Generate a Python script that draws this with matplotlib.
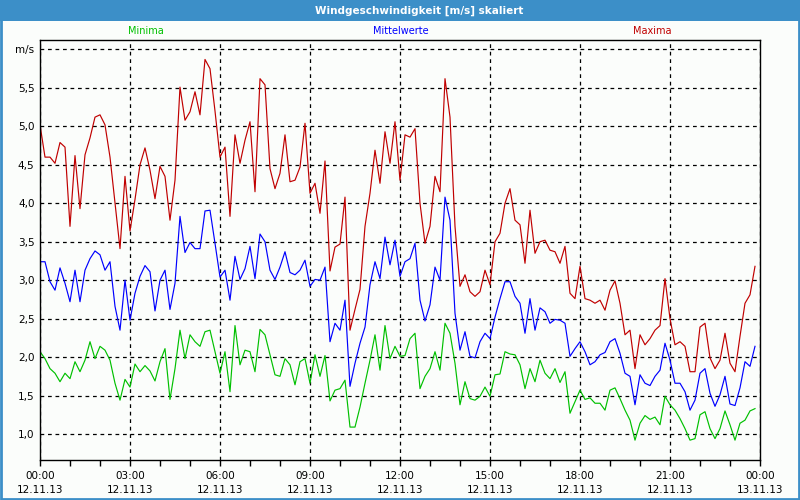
import matplotlib
matplotlib.use("Agg")
import matplotlib.pyplot as plt
from matplotlib.patches import Rectangle
import numpy as np

# 10-Minuten-Werte, 12.11.13 00:00 bis 23:50
maxima = [5.02, 4.6, 4.6, 4.52, 4.79, 4.73, 3.7, 4.62, 3.93, 4.63,
          4.85, 5.12, 5.15, 5.02, 4.6, 4.0, 3.41, 4.35, 3.64, 4.05,
          4.5, 4.72, 4.43, 4.06, 4.48, 4.35, 3.78, 4.3, 5.51, 5.08,
          5.19, 5.45, 5.15, 5.87, 5.75, 5.2, 4.6, 4.73, 3.83, 4.89,
          4.52, 4.82, 5.06, 4.15, 5.62, 5.54, 4.45, 4.19, 4.39, 4.89,
          4.28, 4.3, 4.47, 5.04, 4.13, 4.26, 3.87, 4.55, 3.12, 3.43,
          3.47, 4.08, 2.35, 2.62, 2.88, 3.7, 4.13, 4.69, 4.26, 4.93,
          4.52, 5.06, 4.3, 4.89, 4.86, 4.97, 4.0, 3.48, 3.7, 4.35,
          4.15, 5.62, 5.12, 3.7, 2.92, 3.07, 2.85, 2.79, 2.85, 3.13,
          2.94, 3.5, 3.61, 4.0, 4.19, 3.78, 3.72, 3.22, 3.91, 3.35,
          3.5, 3.52, 3.39, 3.37, 3.22, 3.44, 2.83, 2.76, 3.18, 2.76,
          2.74, 2.7, 2.74, 2.61, 2.87, 2.99, 2.7, 2.29, 2.35, 1.85,
          2.29, 2.16, 2.24, 2.35, 2.41, 3.02, 2.5, 2.16, 2.2, 2.14,
          1.81, 1.81, 2.39, 2.44, 1.99, 1.85, 1.96, 2.31, 1.92, 1.81,
          2.27, 2.7, 2.81, 3.18]

mittelwerte = [3.24, 3.24, 2.98, 2.87, 3.16, 2.96, 2.72, 3.13, 2.72, 3.13,
               3.28, 3.38, 3.33, 3.13, 3.24, 2.66, 2.35, 3.0, 2.48, 2.83,
               3.05, 3.19, 3.11, 2.6, 3.0, 3.13, 2.62, 2.96, 3.83, 3.36,
               3.49, 3.41, 3.41, 3.9, 3.91, 3.48, 3.04, 3.13, 2.74, 3.31,
               3.01, 3.15, 3.44, 3.02, 3.6, 3.5, 3.13, 3.01, 3.17, 3.37,
               3.1, 3.07, 3.13, 3.26, 2.92, 3.01, 3.0, 3.17, 2.2, 2.44,
               2.35, 2.74, 1.62, 1.92, 2.18, 2.39, 2.94, 3.24, 3.02, 3.56,
               3.2, 3.52, 3.05, 3.24, 3.28, 3.48, 2.74, 2.47, 2.68, 3.17,
               3.0, 4.08, 3.78, 2.57, 2.09, 2.33, 2.01, 1.99, 2.2, 2.31,
               2.24, 2.52, 2.76, 2.98, 2.98, 2.79, 2.7, 2.31, 2.76, 2.35,
               2.64, 2.59, 2.44, 2.49, 2.48, 2.44, 2.01, 2.11, 2.2, 2.07,
               1.9, 1.94, 2.03, 2.06, 2.2, 2.24, 2.05, 1.79, 1.75, 1.38,
               1.77, 1.66, 1.63, 1.75, 1.83, 2.18, 1.96, 1.66, 1.66, 1.55,
               1.31, 1.44, 1.79, 1.85, 1.53, 1.36, 1.51, 1.75, 1.39, 1.37,
               1.6, 1.94, 1.88, 2.14]

minima = [2.07, 1.98, 1.85, 1.79, 1.68, 1.79, 1.72, 1.94, 1.81, 1.96,
          2.2, 1.98, 2.14, 2.09, 1.96, 1.66, 1.44, 1.71, 1.61, 1.91,
          1.81, 1.89, 1.82, 1.69, 1.94, 2.11, 1.45, 1.85, 2.35, 1.98,
          2.29, 2.2, 2.14, 2.33, 2.35, 2.07, 1.79, 2.07, 1.55, 2.41,
          1.9, 2.09, 2.07, 1.81, 2.36, 2.29, 2.03, 1.77, 1.75, 1.98,
          1.9, 1.64, 1.94, 1.98, 1.66, 2.03, 1.75, 2.02, 1.43, 1.57,
          1.59, 1.7, 1.09, 1.09, 1.35, 1.66, 1.96, 2.29, 1.83, 2.41,
          1.98, 2.14, 2.01, 2.02, 2.24, 2.31, 1.59, 1.75, 1.85, 2.07,
          1.83, 2.44, 2.31, 1.92, 1.38, 1.68, 1.46, 1.44, 1.49, 1.61,
          1.49, 1.77, 1.78, 2.07, 2.04, 2.03, 1.9, 1.59, 1.85, 1.68,
          1.96, 1.79, 1.72, 1.85, 1.67, 1.81, 1.27, 1.42, 1.57, 1.45,
          1.47, 1.4, 1.4, 1.31, 1.57, 1.6, 1.46, 1.31, 1.18, 0.92,
          1.14, 1.24, 1.19, 1.22, 1.12, 1.49, 1.38, 1.31, 1.2, 1.07,
          0.92, 0.94, 1.25, 1.29, 1.07, 0.94, 1.07, 1.3, 1.12, 0.92,
          1.14, 1.18, 1.3, 1.33]

x_ticks = [0, 3, 6, 9, 12, 15, 18, 21, 24]
x_labels = ["00:00\n12.11.13", "03:00\n12.11.13", "06:00\n12.11.13",
            "09:00\n12.11.13", "12:00\n12.11.13", "15:00\n12.11.13",
            "18:00\n12.11.13", "21:00\n12.11.13", "00:00\n13.11.13"]
y_ticks = [1.0, 1.5, 2.0, 2.5, 3.0, 3.5, 4.0, 4.5, 5.0, 5.5, 6.0]
y_labels = ["1,0", "1,5", "2,0", "2,5", "3,0", "3,5", "4,0", "4,5", "5,0", "5,5", "m/s"]

stunden = np.arange(len(maxima)) / 6.0

bg = "#fbfdfb"
blau_rahmen = "#3c8fc8"
c_min, c_mit, c_max = "#00c000", "#0000ff", "#c00000"

plt.rcParams["font.family"] = ["DejaVu Sans"]
fig = plt.figure(figsize=(8, 5), dpi=100, facecolor=bg)
ax = fig.add_axes([0.05, 0.08, 0.90, 0.84], facecolor=bg)

ax.plot(stunden, maxima, color=c_max, lw=0.85)
ax.plot(stunden, mittelwerte, color=c_mit, lw=0.85)
ax.plot(stunden, minima, color=c_min, lw=0.85)

ax.set_xlim(0, 24)
ax.set_ylim(0.662, 6.123)
ax.set_xticks(x_ticks)
ax.set_xticklabels(x_labels, fontsize=7.5, linespacing=1.45)
ax.set_xticks(range(25), minor=True)
ax.set_yticks(y_ticks)
ax.set_yticklabels(y_labels, fontsize=7.5)
ax.tick_params(axis="x", which="both", length=4, width=1, pad=4, color="black")
ax.tick_params(axis="y", length=0, pad=4)
ax.grid(True, which="major", color="black", linestyle=(0, (3, 3)), linewidth=0.9)
for s in ax.spines.values():
    s.set_color("black")
    s.set_linewidth(1)

# Titelleiste und Rahmen
fig.add_artist(Rectangle((0, 0.958), 1, 0.042, transform=fig.transFigure,
                         facecolor=blau_rahmen, edgecolor="none"))
fig.add_artist(Rectangle((0.001, 0.002), 0.998, 0.996, transform=fig.transFigure,
                         facecolor="none", edgecolor=blau_rahmen, linewidth=2))
fig.text(0.524, 0.979, "Windgeschwindigkeit [m/s] skaliert", color="white",
         fontsize=7.5, fontweight="bold", ha="center", va="center")

fig.text(0.182, 0.937, "Minima", color=c_min, fontsize=7, ha="center", va="center")
fig.text(0.501, 0.937, "Mittelwerte", color=c_mit, fontsize=7, ha="center", va="center")
fig.text(0.815, 0.937, "Maxima", color=c_max, fontsize=7, ha="center", va="center")

fig.savefig("out.png", dpi=100, facecolor=bg)
